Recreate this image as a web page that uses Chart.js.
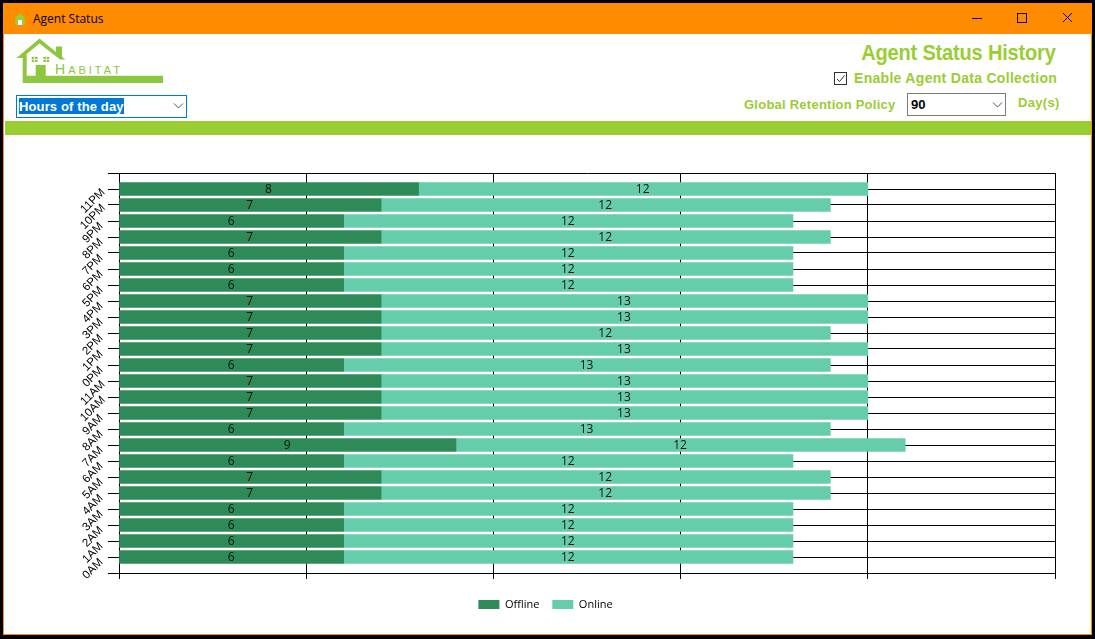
<!DOCTYPE html>
<html><head><meta charset="utf-8">
<script src="https://cdn.jsdelivr.net/npm/chart.js@4"></script>
<style>
html,body{margin:0;padding:0;width:1095px;height:639px;overflow:hidden;background:#000}
#win{position:absolute;left:3px;top:3px;width:1089px;height:632px;background:#ff8c00}
#client{position:absolute;left:1px;top:31px;width:1087px;height:600px;background:#fff}
.abs{position:absolute;white-space:nowrap}
.g{color:#9acd32;font-family:"Liberation Sans",Arial,sans-serif;font-weight:bold}
#bar{position:absolute;left:5px;top:121px;width:1086px;height:14px;background:#9acd32}
.sel{position:absolute;box-sizing:border-box;background:#fff}
canvas{position:absolute}
</style></head><body>
<div id="win"><div id="client"></div></div>
<svg class="abs" style="left:14px;top:12px" width="12" height="14" viewBox="0 0 12 14"><path d="M6 1 L11 6 V13 H1 V6 Z" fill="#9acd32"/><path d="M4 13 V8 H8 V13 Z" fill="#fff"/></svg>
<div class="abs" style="left:33px;top:10px;font:12px 'Open Sans',sans-serif;line-height:17px;color:#000">Agent Status</div>
<svg class="abs" style="left:972px;top:12px" width="105" height="14" viewBox="0 0 105 14">
<path d="M0 6.5H10" stroke="#000"/><rect x="45.5" y="1.5" width="9" height="9" fill="none" stroke="#000"/><path d="M91 1L100 10M100 1L91 10" stroke="#000"/></svg>
<svg class="abs" style="left:16px;top:38px" width="148" height="46" viewBox="16 38 148 46">
<path d="M16.5 58 L39.5 38.5 L56 52 V46.5 H62 V57 L65.5 59.5 H60 L39.5 43.5 L26.7 54 V75.7 H163 V83 H22.7 V58 Z" fill="#8dc63f"/>
<rect x="35.7" y="65" width="10" height="11" fill="#8dc63f"/>
<path d="M31.7 56.7h2.5v2.2h-2.5zM35 56.7h2.5v2.2h-2.5zM31.7 59.8h2.5v2.2h-2.5zM35 59.8h2.5v2.2h-2.5zM43.4 56.7h2.5v2.2h-2.5zM46.7 56.7h2.5v2.2h-2.5zM43.4 59.8h2.5v2.2h-2.5zM46.7 59.8h2.5v2.2h-2.5z" fill="#8dc63f"/></svg>
<div class="abs" style="left:55px;top:63px;font:11px 'Liberation Sans',sans-serif;letter-spacing:3px;color:#8dc63f;line-height:13px"><span style="font-size:14px">H</span>ABITAT</div>
<div class="sel" style="left:16px;top:95px;width:171px;height:23px;border:1px solid #0078d7"></div>
<div class="abs" style="left:19px;top:98px;height:16px;background:#0078d7;color:#fff;font:bold 13px/17px 'Liberation Sans',sans-serif;letter-spacing:.13px">Hours of the day</div>
<svg class="abs" style="left:173px;top:102px" width="12" height="8"><path d="M1 1.5L5.5 6L10 1.5" fill="none" stroke="#555"/></svg>
<div class="abs g" style="right:39px;top:40px;font-size:22px;line-height:26px;letter-spacing:-0.2px;transform:scaleX(.91);transform-origin:right center">Agent Status History</div>
<svg class="abs" style="left:834px;top:72px" width="14" height="14"><rect x="0.5" y="0.5" width="12" height="12" fill="#fff" stroke="#333"/><path d="M3 7L5.5 9.5L10.5 3.5" fill="none" stroke="#333"/></svg>
<div class="abs g" style="left:854px;top:70px;font-size:14px;line-height:17px;letter-spacing:0.3px">Enable Agent Data Collection</div>
<div class="abs g" style="left:744px;top:96px;font-size:13px;line-height:17px;letter-spacing:0.24px">Global Retention Policy</div>
<div class="sel" style="left:907px;top:93px;width:99px;height:23px;border:1px solid #7a7a7a"></div>
<div class="abs" style="left:911px;top:96px;font:bold 13px/17px 'Liberation Sans',sans-serif;color:#000">90</div>
<svg class="abs" style="left:992px;top:101px" width="12" height="8"><path d="M1 1.5L5.5 6L10 1.5" fill="none" stroke="#555"/></svg>
<div class="abs g" style="left:1018px;top:94px;font-size:13px;line-height:17px;letter-spacing:0.3px">Day(s)</div>
<div id="bar"></div>
<canvas id="c" width="1087" height="498" style="left:4px;top:136px;width:1087px;height:498px"></canvas>
<script>
const hourLabels=['0AM','1AM','2AM','3AM','4AM','5AM','6AM','7AM','8AM','9AM','10AM','11AM','0PM','1PM','2PM','3PM','4PM','5PM','6PM','7PM','8PM','9PM','10PM','11PM','',''];
const offlineValues=[null,6,6,6,6,7,7,6,9,6,7,7,7,6,7,7,7,7,6,6,6,7,6,7,8,null];
const onlineValues=[null,12,12,12,12,12,12,12,12,13,13,13,13,13,13,12,13,13,12,12,12,12,12,12,12,null];
const valueLabels={id:'valueLabels',afterDatasetsDraw(chart){
  const ctx=chart.ctx;ctx.save();ctx.fillStyle='#111';ctx.font='12px "Open Sans",sans-serif';ctx.textAlign='center';ctx.textBaseline='middle';
  chart.data.datasets.forEach((ds,i)=>{chart.getDatasetMeta(i).data.forEach((el,j)=>{
    if(ds.data[j]==null)return;
    const p=el.getProps(['x','y','base'],true);
    ctx.fillText(ds.data[j],(p.x+p.base)/2-0.5,p.y+1);
  });});ctx.restore();}};
new Chart(document.getElementById('c'),{type:'bar',
 data:{labels:hourLabels,datasets:[
  {label:'Offline',data:offlineValues,backgroundColor:'#2e8b57',barThickness:13,borderWidth:0},
  {label:'Online',data:onlineValues,backgroundColor:'#66cdaa',barThickness:13,borderWidth:0}]},
 options:{indexAxis:'y',responsive:false,animation:false,devicePixelRatio:1,
  layout:{padding:{top:37,right:36,left:32,bottom:14}},
  plugins:{tooltip:{enabled:false},legend:{position:'bottom',labels:{boxWidth:21,boxHeight:9,padding:13,color:'#000',font:{family:'"Open Sans",sans-serif',size:11}}}},
  scales:{
   x:{stacked:true,min:0,max:25,afterFit(s){s.height=13;},
      grid:{color:'#000',lineWidth:1,tickLength:6,tickColor:'#000'},border:{color:'#000'},
      ticks:{stepSize:5,callback:()=>''}},
   y:{stacked:true,reverse:true,offset:false,afterFit(s){s.width=83;},
      grid:{color:'#000',lineWidth:1,tickLength:11,offset:false,tickColor:'#000'},border:{color:'#000'},
      ticks:{autoSkip:false,minRotation:45,maxRotation:45,align:'end',crossAlign:'center',padding:-4,color:'#000',font:{family:'"Liberation Sans",sans-serif',size:11.5}}}
  }},
 plugins:[valueLabels]});
</script>
</body></html>
